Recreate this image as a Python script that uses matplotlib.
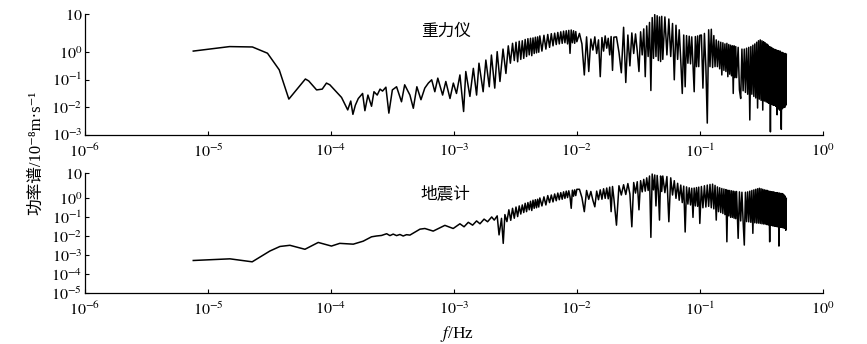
import matplotlib
matplotlib.use('Agg')
import matplotlib.pyplot as plt
from matplotlib.ticker import NullLocator

plt.rcParams['font.family'] = ['Liberation Serif', 'DejaVu Serif', 'Noto Sans CJK SC']
plt.rcParams['mathtext.fontset'] = 'stix'

# frequency bins shared by both spectra in the dense high-frequency part (Hz)
freq_021_050 = [0.021, 0.022, 0.023, 0.024, 0.025, 0.026, 0.027, 0.028, 0.029, 0.030,
                0.031, 0.032, 0.033, 0.034, 0.035, 0.036, 0.037, 0.038, 0.039, 0.040,
                0.041, 0.042, 0.043, 0.044, 0.045, 0.046, 0.047, 0.048, 0.049, 0.050]
freq_052_100 = [0.052, 0.054, 0.056, 0.058, 0.060, 0.062, 0.064, 0.066, 0.068, 0.070,
                0.072, 0.074, 0.076, 0.078, 0.080, 0.082, 0.084, 0.086, 0.088, 0.090,
                0.092, 0.094, 0.096, 0.098, 0.100]
freq_103_199 = [0.103, 0.106, 0.109, 0.112, 0.115, 0.118, 0.121, 0.124, 0.127, 0.130,
                0.133, 0.136, 0.139, 0.142, 0.145, 0.148, 0.151, 0.154, 0.157, 0.160,
                0.163, 0.166, 0.169, 0.172, 0.175, 0.178, 0.181, 0.184, 0.187, 0.190,
                0.193, 0.196, 0.199]
freq_205_505 = [0.205, 0.210, 0.215, 0.220, 0.225, 0.230, 0.235, 0.240, 0.245, 0.250,
                0.255, 0.260, 0.265, 0.270, 0.275, 0.280, 0.285, 0.290, 0.295, 0.300,
                0.305, 0.310, 0.315, 0.320, 0.325, 0.330, 0.335, 0.340, 0.345, 0.350,
                0.355, 0.360, 0.365, 0.370, 0.375, 0.380, 0.385, 0.390, 0.395, 0.400,
                0.405, 0.410, 0.415, 0.420, 0.425, 0.430, 0.435, 0.440, 0.445, 0.450,
                0.455, 0.460, 0.465, 0.470, 0.475, 0.480, 0.485, 0.490, 0.495, 0.500,
                0.505]

# gravimeter (重力仪)
grav_lf_freq = [7.6e-6, 1.5e-5, 2.3e-5, 3.05e-5, 3.8e-5, 4.55e-5, 6.2e-5, 6.6e-5, 7.65e-5, 8.5e-5,
                9.2e-5, 9.8e-5, 1.22e-4, 1.37e-4, 1.45e-4, 1.51e-4, 1.58e-4, 1.67e-4, 1.81e-4, 1.89e-4,
                2.0e-4, 2.14e-4, 2.24e-4, 2.38e-4, 2.51e-4, 2.63e-4, 2.8e-4, 2.96e-4, 3.16e-4, 3.42e-4,
                3.75e-4, 3.98e-4, 4.39e-4, 4.68e-4, 5.0e-4, 5.4e-4, 5.8e-4, 6.2e-4, 6.6e-4, 7.0e-4,
                7.4e-4, 8.1e-4, 8.6e-4, 9.3e-4, 9.9e-4, 1.05e-3, 1.12e-3, 1.2e-3, 1.25e-3, 1.35e-3,
                1.44e-3, 1.53e-3, 1.6e-3, 1.73e-3, 1.82e-3, 1.94e-3, 2.02e-3, 2.15e-3, 2.25e-3, 2.37e-3,
                2.51e-3, 2.65e-3, 2.77e-3, 2.88e-3]
grav_lf_psd = [1.1, 1.6, 1.55, 0.92, 0.23, 0.02, 0.107, 0.091, 0.043, 0.046,
               0.076, 0.066, 0.023, 0.0081, 0.017, 0.0056, 0.012, 0.021, 0.032, 0.0076,
               0.028, 0.011, 0.037, 0.028, 0.046, 0.039, 0.054, 0.0062, 0.043, 0.056,
               0.016, 0.066, 0.028, 0.0093, 0.056, 0.019, 0.05, 0.076, 0.10, 0.037,
               0.115, 0.028, 0.087, 0.021, 0.076, 0.032, 0.15, 0.0071, 0.20, 0.025,
               0.26, 0.028, 0.40, 0.037, 0.52, 0.056, 0.79, 0.05, 1.05, 0.087,
               1.3, 0.17, 1.7, 0.40]
grav_mid_freq = [0.0030, 0.0031, 0.0032, 0.0033, 0.0034, 0.0035, 0.0036, 0.0037, 0.0038, 0.0039,
                 0.0040, 0.0041, 0.0042, 0.0043, 0.0044, 0.0045, 0.0046, 0.0047, 0.0048, 0.0049,
                 0.0050, 0.0052, 0.0054, 0.0056, 0.0058, 0.0060, 0.0062, 0.0064, 0.0066, 0.0068,
                 0.0070, 0.0072, 0.0074, 0.0076, 0.0078, 0.0080, 0.0082, 0.0084, 0.0086, 0.0088,
                 0.0090, 0.0092, 0.0094, 0.0096, 0.0098, 0.0100, 0.0105, 0.0110, 0.0115, 0.0120,
                 0.0125, 0.0130, 0.0135, 0.0140, 0.0145, 0.0150, 0.0155, 0.0160, 0.0165, 0.0170,
                 0.0175, 0.0180, 0.0185, 0.0190, 0.0195, 0.0200]
grav_mid_psd = [2.1, 0.5, 2.3, 0.45, 2.5, 0.55, 2.6, 0.6, 2.9, 0.7,
                3.1, 0.8, 3.2, 0.75, 3.3, 0.9, 3.5, 0.95, 3.6, 1.0,
                3.9, 1.1, 4.1, 1.3, 4.4, 1.5, 4.7, 1.7, 4.9, 1.9,
                5.2, 2.0, 5.5, 2.1, 5.8, 2.2, 6.0, 2.0, 6.2, 0.91,
                6.4, 2.2, 6.0, 2.1, 5.6, 2.4, 4.8, 2.0, 0.15, 3.6,
                0.2, 3.0, 1.2, 3.6, 0.9, 2.8, 0.13, 3.4, 1.1, 3.9,
                1.4, 3.2, 0.8, 3.7, 0.22, 3.5]
grav_psd_021_050 = [3.6, 1.0, 0.18, 8.0, 0.08, 4.2, 0.32, 5.0, 0.9, 4.6,
                    1.1, 0.2, 5.5, 0.8, 7.0, 0.13, 9.0, 0.7, 12.0, 0.041,
                    18.0, 0.6, 23.0, 0.7, 21.0, 0.5, 19.0, 0.46, 20.0, 0.55]
grav_psd_052_100 = [19.0, 0.8, 16.0, 0.7, 11.0, 0.1, 9.5, 0.55, 6.5, 0.5,
                    0.032, 4.2, 0.056, 4.0, 0.4, 3.8, 0.38, 3.6, 0.33, 0.037,
                    3.7, 0.3, 3.9, 0.3, 4.1]
grav_psd_103_199 = [4.2, 0.05, 4.8, 0.3, 0.0027, 6.5, 0.3, 6.8, 0.28, 4.0,
                    0.3, 2.8, 0.3, 2.5, 0.25, 2.3, 0.15, 2.2, 0.22, 2.0,
                    0.2, 2.1, 0.13, 1.9, 0.16, 1.8, 0.14, 1.7, 0.032, 1.7,
                    0.12, 1.6, 0.12]
grav_psd_205_505 = [1.5, 0.043, 0.021, 1.3, 0.04, 1.3, 0.035, 1.4, 0.03, 1.5,
                    0.0035, 1.6, 0.03, 1.8, 0.025, 2.0, 0.022, 2.3, 0.0095, 2.6,
                    0.02, 2.8, 0.018, 2.6, 0.008, 2.4, 0.017, 2.2, 0.016, 2.0,
                    0.015, 1.8, 0.014, 1.6, 0.0013, 1.5, 0.013, 1.4, 0.012, 1.3,
                    0.012, 1.25, 0.011, 1.2, 0.0054, 1.15, 0.009, 1.1, 0.008, 1.1,
                    0.009, 0.0016, 1.0, 0.009, 0.95, 0.01, 0.9, 0.01, 0.9, 0.012,
                    0.85]

# seismometer (地震计)
seis_lf_freq = [7.6e-6, 1.51e-5, 2.29e-5, 3.19e-5, 3.85e-5, 4.64e-5, 6.15e-5, 7.89e-5, 1.01e-4, 1.18e-4,
                1.52e-4, 1.83e-4, 2.14e-4, 2.35e-4, 2.58e-4, 2.84e-4, 3.02e-4, 3.21e-4, 3.42e-4, 3.64e-4,
                3.87e-4, 4.12e-4, 4.39e-4, 5.3e-4, 5.81e-4, 6.79e-4, 8.45e-4, 9.87e-4, 1.12e-3, 1.21e-3,
                1.31e-3, 1.42e-3, 1.53e-3, 1.63e-3, 1.76e-3, 1.88e-3, 2.03e-3, 2.13e-3, 2.25e-3, 2.33e-3,
                2.44e-3, 2.52e-3, 2.6e-3]
seis_lf_psd = [5.4e-4, 6.6e-4, 4.6e-4, 1.7e-3, 2.95e-3, 3.4e-3, 2.1e-3, 4.8e-3, 3.1e-3, 4.3e-3,
               3.9e-3, 5.6e-3, 9.5e-3, 1.05e-2, 1.12e-2, 1.38e-2, 1.1e-2, 1.32e-2, 1.1e-2, 1.26e-2,
               1.05e-2, 1.23e-2, 1.17e-2, 2.4e-2, 2.6e-2, 1.9e-2, 3.8e-2, 2.6e-2, 4.6e-2, 3.2e-2,
               5.5e-2, 3.9e-2, 6.5e-2, 4.6e-2, 8.1e-2, 5.9e-2, 0.105, 7.2e-2, 0.12, 1.2e-2,
               8.9e-2, 4.3e-3, 0.14]
seis_mid_freq = [0.0027, 0.0028, 0.0029, 0.0030, 0.0031, 0.0032, 0.0033, 0.0034, 0.0035, 0.0036,
                 0.0037, 0.0038, 0.0039, 0.0040, 0.0041, 0.0042, 0.0043, 0.0044, 0.0045, 0.0046,
                 0.0047, 0.0048, 0.0049, 0.0050, 0.0052, 0.0054, 0.0056, 0.0058, 0.0060, 0.0062,
                 0.0064, 0.0066, 0.0068, 0.0070, 0.0072, 0.0074, 0.0076, 0.0078, 0.0080, 0.0082,
                 0.0084, 0.0086, 0.0088, 0.0090, 0.0092, 0.0094, 0.0096, 0.0098, 0.0100, 0.0105,
                 0.0110, 0.0115, 0.0120, 0.0125, 0.0130, 0.0135, 0.0140, 0.0145, 0.0150, 0.0155,
                 0.0160, 0.0165, 0.0170, 0.0175, 0.0180, 0.0185, 0.0190, 0.0195, 0.0200]
seis_mid_psd = [0.06, 0.25, 0.07, 0.3, 0.09, 0.35, 0.11, 0.4, 0.15, 0.45,
                0.18, 0.55, 0.2, 0.6, 0.25, 0.7, 0.23, 0.8, 0.3, 0.85,
                0.32, 0.9, 0.35, 1.05, 0.4, 1.2, 0.45, 1.4, 0.6, 1.5,
                0.65, 1.7, 0.75, 1.9, 0.85, 2.0, 0.9, 2.2, 1.0, 2.4,
                1.1, 2.5, 1.2, 0.3, 2.7, 1.3, 2.8, 1.4, 3.0, 3.0,
                1.1, 0.2, 2.6, 0.9, 2.3, 0.8, 0.36, 2.4, 0.85, 2.8,
                0.9, 3.2, 1.0, 3.5, 0.95, 3.9, 0.2, 4.2, 1.0]
seis_psd_021_050 = [0.039, 4.6, 1.5, 5.2, 1.6, 6.0, 1.7, 0.032, 6.8, 1.9,
                    7.5, 0.25, 8.5, 2.2, 10.0, 2.4, 12.0, 2.6, 15.0, 0.0089,
                    19.0, 2.8, 17.0, 0.4, 16.0, 2.5, 0.072, 15.0, 2.3, 15.0]
seis_psd_052_100 = [2.0, 14.0, 0.059, 12.0, 1.5, 8.5, 1.0, 6.2, 0.8, 5.0,
                    0.6, 4.4, 0.017, 4.0, 0.5, 3.6, 0.45, 3.4, 0.1, 3.5,
                    0.4, 3.7, 0.38, 3.9, 0.048]
seis_psd_103_199 = [4.2, 0.32, 4.6, 0.35, 5.0, 0.38, 5.4, 0.32, 5.6, 0.28,
                    4.8, 0.072, 4.0, 0.2, 3.6, 0.18, 3.3, 0.16, 3.1, 0.14,
                    2.9, 0.0052, 2.7, 0.12, 2.6, 0.1, 2.5, 0.1, 2.4, 0.09,
                    2.3, 0.085, 2.3]
seis_psd_205_505 = [0.0079, 2.2, 0.065, 2.1, 0.06, 0.0035, 2.1, 0.06, 2.2, 0.058,
                    2.4, 0.055, 2.6, 0.0145, 2.8, 0.052, 3.0, 0.05, 3.2, 0.05,
                    3.4, 0.048, 3.2, 0.046, 3.0, 0.045, 2.8, 0.044, 2.7, 0.042,
                    2.6, 0.04, 2.4, 0.0052, 2.3, 0.038, 2.2, 0.036, 2.2, 0.035,
                    2.1, 0.034, 2.0, 0.033, 2.0, 0.032, 1.9, 0.0031, 1.9, 0.03,
                    1.8, 0.03, 1.8, 0.029, 1.7, 0.028, 1.5, 0.027, 1.3, 0.021,
                    1.0]

hf_freq = freq_021_050 + freq_052_100 + freq_103_199 + freq_205_505
grav_freq = grav_lf_freq + grav_mid_freq + hf_freq
grav_psd = grav_lf_psd + grav_mid_psd + grav_psd_021_050 + grav_psd_052_100 + grav_psd_103_199 + grav_psd_205_505
seis_freq = seis_lf_freq + seis_mid_freq + hf_freq
seis_psd = seis_lf_psd + seis_mid_psd + seis_psd_021_050 + seis_psd_052_100 + seis_psd_103_199 + seis_psd_205_505

x_ticks = [1e-6, 1e-5, 1e-4, 1e-3, 1e-2, 1e-1, 1e0]
x_tick_labels = ['$10^{-6}$', '$10^{-5}$', '$10^{-4}$', '$10^{-3}$', '$10^{-2}$', '$10^{-1}$', '$10^{0}$']
grav_ylim = (1e-3, 24.5)
grav_yticks = [1e-3, 1e-2, 1e-1, 1e0, 24.5]
grav_ytick_labels = ['$10^{-3}$', '$10^{-2}$', '$10^{-1}$', '$10^{0}$', '$10$']
seis_ylim = (1e-5, 22.4)
seis_yticks = [1e-5, 1e-4, 1e-3, 1e-2, 1e-1, 1e0, 22.4]
seis_ytick_labels = ['$10^{-5}$', '$10^{-4}$', '$10^{-3}$', '$10^{-2}$', '$10^{-1}$', '$10^{0}$', '$10$']


def draw_panel(ax, freq, psd, name, ylim, yticks, yticklabels, name_y):
    ax.loglog(freq, psd, color='black', lw=1.1)
    ax.set_xlim(1e-6, 1)
    ax.set_ylim(*ylim)
    ax.set_xticks(x_ticks)
    ax.set_xticklabels(x_tick_labels)
    ax.set_yticks(yticks)
    ax.set_yticklabels(yticklabels)
    ax.xaxis.set_minor_locator(NullLocator())
    ax.yaxis.set_minor_locator(NullLocator())
    ax.tick_params(direction='in', length=3, width=0.8, labelsize=11.5, pad=2)
    ax.tick_params(axis='x', pad=6)
    for side in ['top', 'right']:
        ax.spines[side].set_visible(False)
    for side in ['left', 'bottom']:
        ax.spines[side].set_linewidth(0.9)
    ax.text(8.6e-4, name_y, name, transform=ax.get_xaxis_transform(),
            ha='center', va='center', fontsize=12, family=['Noto Sans CJK SC'])


fig = plt.figure(figsize=(8.67, 3.44), dpi=100)
ax1 = fig.add_axes([0.098, 0.6076, 0.851, 0.352])
ax2 = fig.add_axes([0.098, 0.147, 0.851, 0.351])

draw_panel(ax1, grav_freq, grav_psd, '重力仪', grav_ylim, grav_yticks, grav_ytick_labels, 0.854)
draw_panel(ax2, seis_freq, seis_psd, '地震计', seis_ylim, seis_yticks, seis_ytick_labels, 0.823)

fig.text(0.042, 0.555, '功率谱/10⁻⁸m·s⁻¹', rotation=90, ha='center', va='center', fontsize=12)
fig.text(0.527, 0.03, r'$f$/Hz', ha='center', va='center', fontsize=12.5)

fig.savefig('out.png', dpi=100)
